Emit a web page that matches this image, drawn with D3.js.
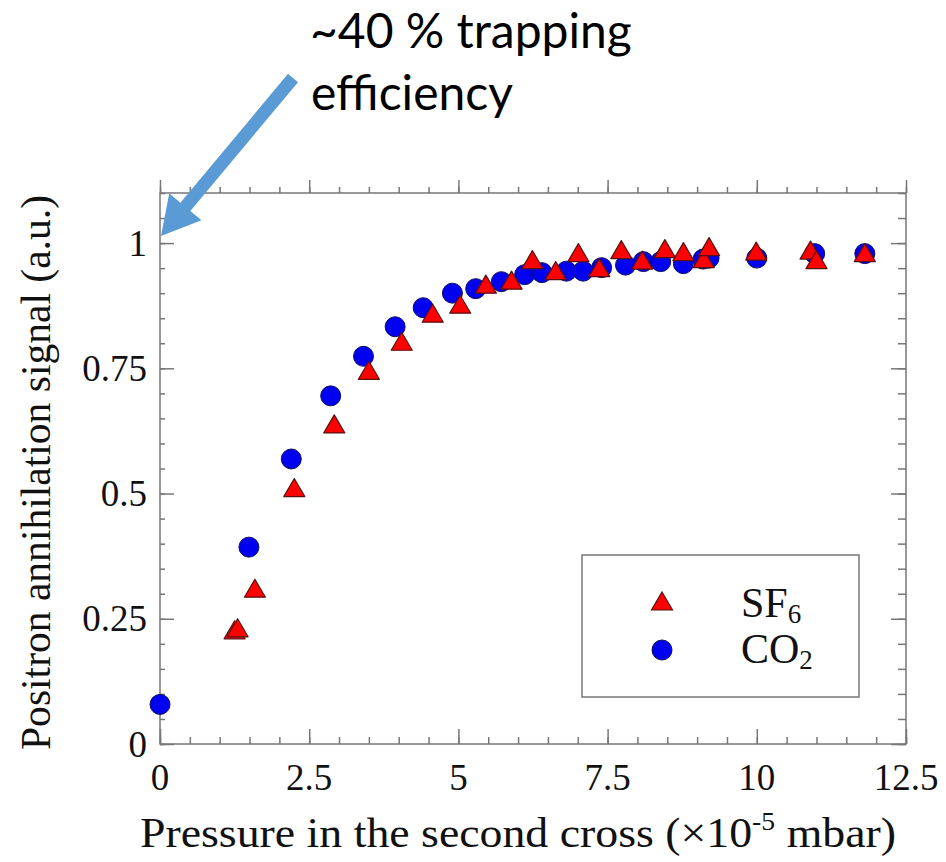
<!DOCTYPE html>
<html>
<head>
<meta charset="utf-8">
<script src="https://cdn.jsdelivr.net/npm/d3@7"></script>
<style>
  html, body { margin: 0; padding: 0; background: #fff; }
  svg { display: block; }
</style>
</head>
<body>
<div id="chart"></div>
<script>
'use strict';

// SF6 measurements (pressure x1e-5 mbar, normalised signal)
const sf6Pressure = [1.25, 1.30, 1.59, 2.25, 2.92, 3.50, 4.05, 4.57, 5.03, 5.46, 5.89, 6.24, 6.63, 7.01, 7.36, 7.73, 8.08, 8.46, 8.77, 9.11, 9.20, 9.99, 10.90, 11.00, 11.81];
const sf6Signal   = [0.228, 0.232, 0.311, 0.512, 0.639, 0.746, 0.804, 0.860, 0.878, 0.918, 0.926, 0.967, 0.945, 0.981, 0.951, 0.987, 0.966, 0.989, 0.983, 0.969, 0.993, 0.984, 0.986, 0.967, 0.981];

// CO2 measurements
const co2Pressure = [0.0, 1.49, 2.20, 2.86, 3.41, 3.94, 4.41, 4.90, 5.29, 5.72, 6.11, 6.40, 6.81, 7.09, 7.40, 7.80, 8.10, 8.39, 8.77, 9.10, 9.20, 10.0, 10.97, 11.81];
const co2Signal   = [0.079, 0.393, 0.569, 0.695, 0.774, 0.833, 0.871, 0.900, 0.909, 0.923, 0.937, 0.941, 0.944, 0.944, 0.951, 0.956, 0.963, 0.963, 0.959, 0.968, 0.970, 0.970, 0.979, 0.979];

const xTicks = [0, 2.5, 5, 7.5, 10, 12.5];
const yTicks = [0, 0.25, 0.5, 0.75, 1];
const xTickLabels = ['0', '2.5', '5', '7.5', '10', '12.5'];
const yTickLabels = ['0', '0.25', '0.5', '0.75', '1'];

const W = 946, H = 862;
const plot = { left: 160, right: 906, top: 193, bottom: 744 };

const svg = d3.select('#chart').append('svg').attr('width', W).attr('height', H);

const x = d3.scaleLinear().domain([0, 12.5]).range([plot.left, plot.right]);
const y = d3.scaleLinear().domain([0, 1.1]).range([plot.bottom, plot.top]);

const frameColor = '#777';
const serif = '"Liberation Serif", "Times New Roman", serif';

/* Frame */
svg.append('rect')
    .attr('x', plot.left).attr('y', plot.top)
    .attr('width', plot.right - plot.left).attr('height', plot.bottom - plot.top)
    .attr('fill', 'none').attr('stroke', frameColor).attr('stroke-width', 1.5);

/* Ticks, pointing inwards on all four sides */
const xMinor = d3.range(0, 12.5001, 0.5);
const yMinor = d3.range(0, 1.1001, 0.05);

function tickAxis(axisFn, scale, values, size, transform) {
    const g = svg.append('g').attr('transform', transform)
        .call(axisFn(scale).tickValues(values).tickSizeInner(size).tickSizeOuter(0).tickFormat(''));
    g.select('.domain').remove();
    g.selectAll('line').attr('stroke', frameColor).attr('stroke-width', 1.5);
    return g;
}

tickAxis(d3.axisBottom, x, xMinor, -7, `translate(0,${plot.bottom})`);
tickAxis(d3.axisBottom, x, xTicks, -15, `translate(0,${plot.bottom})`);
tickAxis(d3.axisTop, x, xMinor, 6, `translate(0,${plot.top})`);
tickAxis(d3.axisTop, x, xTicks, 13, `translate(0,${plot.top})`);
tickAxis(d3.axisLeft, y, yMinor, -5, `translate(${plot.left},0)`);
tickAxis(d3.axisLeft, y, yTicks, -14, `translate(${plot.left},0)`);
tickAxis(d3.axisRight, y, yMinor, -8, `translate(${plot.right},0)`);
tickAxis(d3.axisRight, y, yTicks, -15, `translate(${plot.right},0)`);

/* Tick labels */
svg.append('g').selectAll('text')
    .data(xTicks)
    .join('text')
    .attr('x', d => x(d))
    .attr('y', plot.bottom + 46)
    .attr('text-anchor', 'middle')
    .attr('font-family', serif).attr('font-size', 37).attr('fill', '#111')
    .text((d, i) => xTickLabels[i]);

svg.append('g').selectAll('text')
    .data(yTicks)
    .join('text')
    .attr('x', 147)
    .attr('y', d => y(d) + 12.5)
    .attr('text-anchor', 'end')
    .attr('font-family', serif).attr('font-size', 37).attr('fill', '#111')
    .text((d, i) => yTickLabels[i]);

/* Axis titles */
const xTitle = svg.append('text')
    .attr('x', 140).attr('y', 847)
    .attr('font-family', serif).attr('font-size', 43).attr('fill', '#111')
    .attr('textLength', 756).attr('lengthAdjust', 'spacingAndGlyphs');
xTitle.append('tspan').text('Pressure in the second cross (\u00d710');
xTitle.append('tspan').attr('font-size', 26).attr('dy', -17).text('-5');
xTitle.append('tspan').attr('dy', 17).text(' mbar)');

svg.append('text')
    .attr('transform', `translate(50,${(plot.top + plot.bottom) / 2 + 4}) rotate(-90)`)
    .attr('text-anchor', 'middle')
    .attr('font-family', serif).attr('font-size', 43).attr('fill', '#111')
    .attr('textLength', 555).attr('lengthAdjust', 'spacingAndGlyphs')
    .text('Positron annihilation signal (a.u.)');

/* Markers */
const triW = 21, triH = 18;
const triPath = (cx, cy) => `M${cx},${cy - triH / 2}L${cx + triW / 2},${cy + triH / 2}L${cx - triW / 2},${cy + triH / 2}Z`;

const co2 = co2Pressure.map((p, i) => ({ p, s: co2Signal[i] }));
const sf6 = sf6Pressure.map((p, i) => ({ p, s: sf6Signal[i] }));

svg.append('g').selectAll('circle')
    .data(co2)
    .join('circle')
    .attr('cx', d => x(d.p))
    .attr('cy', d => y(d.s))
    .attr('r', 10)
    .attr('fill', '#0000f0')
    .attr('stroke', '#101060')
    .attr('stroke-width', 1);

svg.append('g').selectAll('path')
    .data(sf6)
    .join('path')
    .attr('d', d => triPath(x(d.p), y(d.s)))
    .attr('fill', '#ff0000')
    .attr('stroke', '#5a1010')
    .attr('stroke-width', 1.2)
    .attr('stroke-linejoin', 'round');

/* Legend */
const lg = svg.append('g');
lg.append('rect')
    .attr('x', 582).attr('y', 555).attr('width', 277).attr('height', 142)
    .attr('fill', '#fff').attr('stroke', frameColor).attr('stroke-width', 1.5);
lg.append('path')
    .attr('d', triPath(662, 601))
    .attr('fill', '#ff0000').attr('stroke', '#5a1010').attr('stroke-width', 1.2);
lg.append('circle')
    .attr('cx', 662).attr('cy', 650).attr('r', 10)
    .attr('fill', '#0000f0').attr('stroke', '#101060').attr('stroke-width', 1);

const sfText = lg.append('text').attr('x', 741).attr('y', 617)
    .attr('font-family', serif).attr('font-size', 42).attr('fill', '#111');
sfText.append('tspan').text('SF');
sfText.append('tspan').attr('font-size', 27).attr('dy', 6).text('6');

const coText = lg.append('text').attr('x', 741).attr('y', 663)
    .attr('font-family', serif).attr('font-size', 42).attr('fill', '#111');
coText.append('tspan').text('CO');
coText.append('tspan').attr('font-size', 27).attr('dy', 6).text('2');

/* Annotation arrow + text */
const arrowColor = '#5b9bd5';
const tail = [293, 78], tip = [161, 236];
const ang = Math.atan2(tip[1] - tail[1], tip[0] - tail[0]);
const headLen = 38, headHalf = 21, shaftHalf = 6.5;
const ux = Math.cos(ang), uy = Math.sin(ang), nx = -uy, ny = ux;
const base = [tip[0] - ux * headLen, tip[1] - uy * headLen];
const arrowPts = [
    [tail[0] + nx * shaftHalf, tail[1] + ny * shaftHalf],
    [base[0] + nx * shaftHalf, base[1] + ny * shaftHalf],
    [base[0] + nx * headHalf, base[1] + ny * headHalf],
    tip,
    [base[0] - nx * headHalf, base[1] - ny * headHalf],
    [base[0] - nx * shaftHalf, base[1] - ny * shaftHalf],
    [tail[0] - nx * shaftHalf, tail[1] - ny * shaftHalf]
];
svg.append('path')
    .attr('d', d3.line()(arrowPts) + 'Z')
    .attr('fill', arrowColor);

const sans = 'Lato, "Open Sans", sans-serif';
svg.append('text').attr('x', 310).attr('y', 48)
    .attr('font-family', sans).attr('font-size', 48).attr('fill', '#000')
    .text('~40 % trapping');
svg.append('text').attr('x', 311).attr('y', 110)
    .attr('font-family', sans).attr('font-size', 48).attr('fill', '#000')
    .text('efficiency');
</script>
</body>
</html>
